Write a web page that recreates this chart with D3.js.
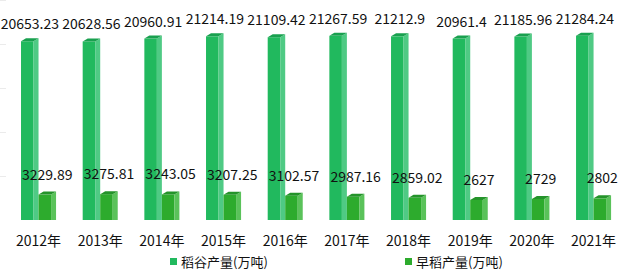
<!DOCTYPE html>
<html>
<head>
<meta charset="utf-8">
<script src="https://cdn.jsdelivr.net/npm/d3@7/dist/d3.min.js"></script>
<style>
  body { margin: 0; background: #fff; }
  svg { display: block; font-family: "Noto Sans CJK SC", "Noto Sans", sans-serif; }
</style>
</head>
<body>
<svg class="chart"></svg>
<script>
var years = ["2012年", "2013年", "2014年", "2015年", "2016年", "2017年", "2018年", "2019年", "2020年", "2021年"];
var riceOutput = [20653.23, 20628.56, 20960.91, 21214.19, 21109.42, 21267.59, 21212.9, 20961.4, 21185.96, 21284.24];
var earlyRiceOutput = [3229.89, 3275.81, 3243.05, 3207.25, 3102.57, 2987.16, 2859.02, 2627, 2729, 2802];
var seriesNames = ["稻谷产量(万吨)", "早稻产量(万吨)"];
var yTicks = [0, 5000, 10000, 15000, 20000, 25000];

var width = 620, height = 272;
var baseY = 220;
var depthX = 5, depthY = 3;

// front / side / top colours for each series
var colors = [
	{front: "#21b95e", side: "#4fca84", top: "#19a04f"},
	{front: "#2dab2d", side: "#5ac25a", top: "#24932a"}
];

var svg = d3.select(".chart")
	.attr("width", width)
	.attr("height", height);

var x = d3.scaleBand()
	.domain(years)
	.range([7.7, 624.4]);

var x1 = d3.scaleBand()
	.domain([0, 1])
	.range([0, x.bandwidth()])
	.paddingOuter(0.76);

var y = d3.scaleLinear()
	.domain([0, 25000])
	.range([baseY, 0]);

// faint grid stubs at the left edge
svg.append("g")
	.selectAll("line")
	.data(yTicks.slice(1))
	.enter()
	.append("line")
	.attr("x1", 0)
	.attr("x2", 6)
	.attr("y1", d => Math.round(y(d)) + 0.5)
	.attr("y2", d => Math.round(y(d)) + 0.5)
	.attr("stroke", "#ebebeb");

var rows = years.map((yr, i) => ({year: yr, vals: [riceOutput[i], earlyRiceOutput[i]]}));

var groups = svg.selectAll(".grp")
	.data(rows)
	.enter()
	.append("g")
	.attr("class", "grp")
	.attr("transform", d => "translate(" + x(d.year) + ",0)");

var bars = groups.selectAll(".bar")
	.data(d => d.vals.map((v, s) => ({v: v, s: s})))
	.enter()
	.append("g")
	.attr("class", "bar");

function frontW() { return x1.bandwidth() - depthX; }

// front face
bars.append("rect")
	.attr("x", d => x1(d.s))
	.attr("y", d => y(d.v) + depthY)
	.attr("width", frontW())
	.attr("height", d => baseY - y(d.v) - depthY)
	.attr("fill", d => colors[d.s].front);

// side face
bars.append("path")
	.attr("d", d => {
		var x0 = x1(d.s) + frontW(), t = y(d.v) + depthY;
		return "M" + x0 + "," + t + "L" + (x0 + depthX) + "," + (t - depthY) +
			"L" + (x0 + depthX) + "," + baseY + "L" + x0 + "," + baseY + "Z";
	})
	.attr("fill", d => colors[d.s].side);

// top face
bars.append("path")
	.attr("d", d => {
		var x0 = x1(d.s), t = y(d.v) + depthY;
		return "M" + x0 + "," + t + "L" + (x0 + depthX) + "," + (t - depthY) +
			"L" + (x0 + frontW() + depthX) + "," + (t - depthY) +
			"L" + (x0 + frontW()) + "," + t + "Z";
	})
	.attr("fill", d => colors[d.s].top);

// value labels
bars.append("text")
	.attr("x", d => x1(d.s) + x1.bandwidth() / 2)
	.attr("y", d => y(d.v) - (d.s === 0 ? 9 : 12))
	.attr("text-anchor", "middle")
	.attr("font-size", 14)
	.attr("fill", "#111")
	.text(d => d.v);

// category labels
svg.append("g")
	.selectAll("text")
	.data(years)
	.enter()
	.append("text")
	.attr("x", d => x(d) + x.bandwidth() / 2)
	.attr("y", 246)
	.attr("text-anchor", "middle")
	.attr("font-size", 14)
	.attr("fill", "#111")
	.text(d => d);

// legend
var legendX = [170, 405];
var legend = svg.append("g")
	.selectAll("g")
	.data(seriesNames)
	.enter()
	.append("g")
	.attr("transform", (d, i) => "translate(" + legendX[i] + ",258)");

legend.append("rect")
	.attr("width", 7)
	.attr("height", 7)
	.attr("fill", (d, i) => colors[i].front);

legend.append("text")
	.attr("x", 11)
	.attr("y", 9)
	.attr("font-size", 13)
	.attr("fill", "#111")
	.text(d => d);
</script>
</body>
</html>
